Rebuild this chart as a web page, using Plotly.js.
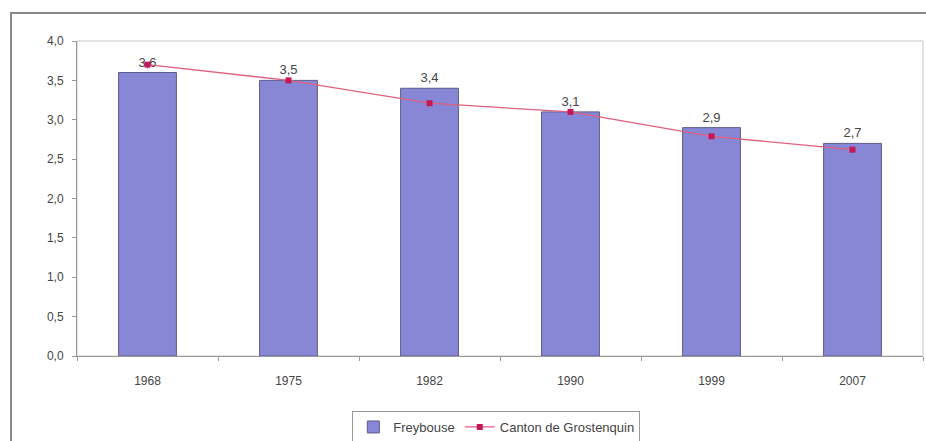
<!DOCTYPE html>
<html>
<head>
<meta charset="utf-8">
<script src="https://cdn.plot.ly/plotly-3.0.1.min.js"></script>
<style>html,body{margin:0;padding:0;background:#fff;}#chart{width:926px;height:441px;}</style>
</head>
<body>
<div id="chart"></div>
<script>
const years = ['1968', '1975', '1982', '1990', '1999', '2007'];
const freybouse = [3.6, 3.5, 3.4, 3.1, 2.9, 2.7];
const canton = [3.7, 3.5, 3.21, 3.1, 2.79, 2.62];
const yTicks = [0, 0.5, 1, 1.5, 2, 2.5, 3, 3.5, 4];

const traces = [
  {
    type: 'bar', name: 'Freybouse', x: years, y: freybouse,
    marker: {color: '#8787d6', line: {color: '#5a5a8c', width: 1}},
    texttemplate: '%{y:.1f}', textposition: 'outside',
    textfont: {family: 'Liberation Sans, Arial, sans-serif', size: 13, color: '#444'},
    cliponaxis: false
  },
  {
    type: 'scatter', mode: 'lines+markers', name: 'Canton de Grostenquin', x: years, y: canton,
    line: {color: '#e0607c', width: 1.3},
    marker: {symbol: 'square', size: 6, color: '#c41858'}
  }
];

const layout = {
  width: 926, height: 441,
  margin: {l: 77, r: 3, t: 41, b: 85},
  paper_bgcolor: '#fff', plot_bgcolor: '#fff',
  separators: ',.',
  font: {family: 'Liberation Sans, Arial, sans-serif', size: 12, color: '#444'},
  bargap: 0.59,
  showlegend: true,
  legend: {
    orientation: 'h', xref: 'container', x: 0.536, xanchor: 'center',
    yref: 'container', y: 0.068, yanchor: 'top',
    bordercolor: '#999', borderwidth: 1, bgcolor: '#fff',
    font: {size: 13, color: '#444'}, traceorder: 'normal', itemwidth: 30
  },
  xaxis: {
    type: 'category', showline: true, linecolor: '#999', linewidth: 1,
    ticks: 'outside', tickson: 'boundaries', ticklen: 4, tickcolor: '#999',
    ticklabelstandoff: 14,
    showgrid: false, tickfont: {size: 12, color: '#444'}
  },
  yaxis: {
    range: [0, 4], tickvals: yTicks, tickformat: '.1f',
    showline: true, linecolor: '#999', linewidth: 1,
    ticks: 'outside', ticklen: 4, tickcolor: '#999',
    ticklabelstandoff: 6,
    showgrid: false, zeroline: false, tickfont: {size: 12, color: '#444'}
  },
  shapes: [
    {type: 'rect', xref: 'paper', yref: 'paper', x0: 0, x1: 1, y0: 0, y1: 1,
     line: {color: '#c8c8c8', width: 1}, layer: 'below'},
    {type: 'rect', xref: 'paper', yref: 'paper', x0: -0.078, x1: 1.02, y0: -0.32, y1: 1.089,
     line: {color: '#888', width: 2}, layer: 'below'}
  ]
};

Plotly.newPlot('chart', traces, layout, {displayModeBar: false, staticPlot: true});
</script>
</body>
</html>
